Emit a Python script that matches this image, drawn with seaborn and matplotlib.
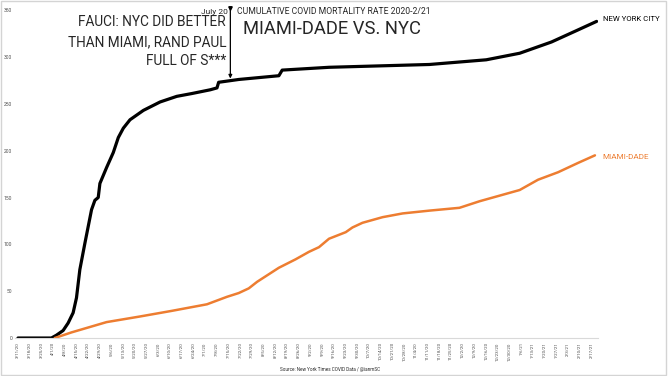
import pandas as pd
import matplotlib
matplotlib.use("Agg")
import matplotlib.pyplot as plt
import matplotlib.dates as mdates
from matplotlib.patches import Rectangle
import seaborn as sns

# ---- data (deaths per 100k, cumulative) ----
nyc_dates = ["2020-03-11", "2020-03-25", "2020-03-31", "2020-04-03", "2020-04-07",
             "2020-04-10", "2020-04-13", "2020-04-15", "2020-04-17", "2020-04-20",
             "2020-04-24", "2020-04-26", "2020-04-28", "2020-04-29", "2020-05-03",
             "2020-05-07", "2020-05-10", "2020-05-13", "2020-05-17", "2020-05-25",
             "2020-06-04", "2020-06-14", "2020-06-23", "2020-07-04", "2020-07-08",
             "2020-07-09", "2020-07-21", "2020-08-14", "2020-08-16", "2020-09-13",
             "2020-11-12", "2020-12-16", "2021-01-05", "2021-01-24", "2021-02-09",
             "2021-02-20"]
nyc_vals = [0, 0, 0, 3, 8, 16, 27, 43, 73, 101, 137, 147, 150, 165, 182, 198, 214,
            224, 233, 243, 252, 258, 261, 265, 267, 273, 276, 280, 286, 289, 292,
            297, 304, 316, 329, 338]

miami_dates = ["2020-04-02", "2020-04-12", "2020-05-03", "2020-05-23", "2020-06-11",
               "2020-07-02", "2020-07-14", "2020-07-21", "2020-07-27", "2020-08-01",
               "2020-08-14", "2020-08-24", "2020-09-01", "2020-09-07", "2020-09-13",
               "2020-09-23", "2020-09-27", "2020-10-03", "2020-10-15", "2020-10-27",
               "2020-11-12", "2020-11-30", "2020-12-12", "2021-01-05", "2021-01-16",
               "2021-01-28", "2021-02-09", "2021-02-19"]
miami_vals = [0, 6, 17, 23, 29, 36, 44, 48, 53, 60, 75, 84, 92, 97, 106, 113, 118,
              123, 129, 133, 136, 139, 146, 158, 169, 177, 187, 195]

tick_start = "2020-03-11"
tick_end = "2021-02-17"
y_ticks = [0, 50, 100, 150, 200, 250, 300, 350]

df = pd.concat([
    pd.DataFrame({"fecha": pd.to_datetime(nyc_dates), "tasa": nyc_vals, "serie": "NEW YORK CITY"}),
    pd.DataFrame({"fecha": pd.to_datetime(miami_dates), "tasa": miami_vals, "serie": "MIAMI-DADE"}),
])

sns.set_style("white")
plt.rcParams['font.family'] = ['Roboto', 'DejaVu Sans']

colores = {"NEW YORK CITY": "#000000", "MIAMI-DADE": "#ED7D31"}

fig = plt.figure(figsize=(6.68, 3.76), dpi=100)
ax = fig.add_axes([0.0225, 0.101, 0.8725, 0.872])

sns.lineplot(data=df, x="fecha", y="tasa", hue="serie", palette=colores,
             linewidth=2.0, legend=False, ax=ax)
# la línea negra es un poco más gruesa en el original
ax.lines[0].set_linewidth(2.3)
ax.lines[1].set_linewidth(1.8)

ax.set_ylim(0, 350)
ax.set_xlim(pd.Timestamp("2020-03-09 06:00"), pd.Timestamp("2021-02-20 18:00"))
ax.set_yticks(y_ticks)
ticks = pd.date_range(tick_start, tick_end, freq="7D")
ax.set_xticks(ticks)
ax.set_xticklabels([f"{d.month}/{d.day}/{d.year % 100}" for d in ticks],
                   rotation=90, fontsize=3.2, color="#505050")
ax.tick_params(axis="y", labelsize=3.6, labelcolor="#505050", length=0, pad=2)
ax.tick_params(axis="x", length=0, pad=3)
ax.set_xlabel("")
ax.set_ylabel("")
for s in ["top", "right", "left"]:
    ax.spines[s].set_visible(False)
ax.spines["bottom"].set_color("#d9d9d9")
ax.spines["bottom"].set_linewidth(0.8)

# etiquetas de las series al final de cada línea
ax.text(1.008, (376 - 19 - 38) / 328, "NEW YORK CITY", transform=ax.transAxes,
        fontsize=5.6, color="black", va="center", ha="left")
ax.text(1.008, (376 - 157 - 38) / 328, "MIAMI-DADE", transform=ax.transAxes,
        fontsize=5.9, color="#ED7D31", va="center", ha="left")

# marca de July 20
x_mark = mdates.date2num(pd.Timestamp("2020-07-16"))
ax.annotate("", xy=(x_mark, 277), xytext=(x_mark, 353), annotation_clip=False,
            arrowprops=dict(arrowstyle="-|>", color="black", lw=0.9,
                            mutation_scale=5, shrinkA=0, shrinkB=0))
ax.plot([x_mark], [352], marker="v", markersize=2.5, color="black", clip_on=False)

W, H = 668, 376
fig.text(228 / W, 1 - 12 / H, "July 20", fontsize=6.0, ha="right", va="center")
fig.text(237 / W, 1 - 12 / H, "CUMULATIVE COVID MORTALITY RATE 2020-2/21",
         fontsize=6.2, ha="left", va="center")
fig.text(243 / W, 1 - 29 / H, "MIAMI-DADE VS. NYC", fontsize=13.2, ha="left", va="center")
for linea, yy in zip(["FAUCI: NYC DID BETTER", "THAN MIAMI, RAND PAUL", "FULL OF S***"],
                     [22, 42, 61]):
    fig.text(226 / W, 1 - yy / H, linea, fontsize=9.8, ha="right", va="center")

fig.text(330 / W, 1 - 369 / H, "Source: New York Times COVID Data / @ianmSC",
         fontsize=3.3, ha="center", va="center")

# marco fino alrededor de la imagen
fig.patches.append(Rectangle((0.002, 0.003), 0.995, 0.994, transform=fig.transFigure,
                             fill=False, edgecolor="#d4d4d4", lw=1.0))

fig.savefig("out.png", dpi=100)
